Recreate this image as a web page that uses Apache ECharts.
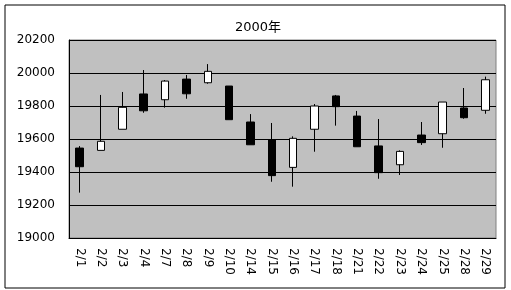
<!DOCTYPE html>
<html><head><meta charset="utf-8">
<script src="https://cdn.jsdelivr.net/npm/echarts@6/dist/echarts.min.js"></script>
<style>html,body{margin:0;padding:0;background:#fff}#c{width:511px;height:290px}</style>
</head><body><div id="c"></div>
<script>
var categories = ['2/1','2/2','2/3','2/4','2/7','2/8','2/9','2/10','2/14','2/15','2/16','2/17','2/18','2/21','2/22','2/23','2/24','2/25','2/28','2/29'];
var openV  = [19545,19531,19659,19873,19838,19963,19941,19921,19703,19594,19428,19659,19861,19739,19558,19444,19624,19632,19788,19774];
var closeV = [19432,19586,19792,19771,19951,19874,20010,19717,19565,19378,19604,19800,19796,19553,19396,19525,19578,19824,19729,19959];
var lowV   = [19275,19531,19659,19759,19790,19844,19935,19717,19565,19341,19311,19523,19681,19553,19359,19382,19564,19547,19723,19753];
var highV  = [19557,19867,19885,20018,19957,19988,20054,19921,19751,19697,19616,19812,19867,19770,19721,19531,19703,19824,19909,19978];
var yTicks = [19000,19200,19400,19600,19800,20000,20200];

var data = categories.map(function(c,i){return [openV[i],closeV[i],lowV[i],highV[i]];});
var chart = echarts.init(document.getElementById('c'));
var font = "'DejaVu Sans', 'Noto Sans CJK JP', sans-serif";
chart.setOption({
  animation:false,
  backgroundColor:'#fff',
  title:{text:'2000年',left:253,top:16,textAlign:'center',textStyle:{fontSize:13,fontWeight:'normal',color:'#000',fontFamily:font}},
  graphic:[{type:'rect',shape:{x:5,y:5,width:500,height:283},style:{fill:null,stroke:'#000',lineWidth:1},silent:true,z:-1}],
  grid:{left:69,top:40,right:15,bottom:52,show:true,backgroundColor:'#c0c0c0',borderColor:'#808080',borderWidth:1},
  xAxis:{type:'category',data:categories,boundaryGap:true,
    axisLine:{lineStyle:{color:'#000',width:1}},
    axisTick:{inside:true,length:3,alignWithLabel:false,lineStyle:{color:'#000'}},
    axisLabel:{rotate:-90,margin:10,color:'#000',fontSize:12,fontFamily:font,interval:0},
    splitLine:{show:false}},
  yAxis:{type:'value',min:yTicks[0],max:yTicks[yTicks.length-1],interval:200,
    axisLine:{show:true,lineStyle:{color:'#000',width:1}},
    axisTick:{show:true,inside:true,length:3,lineStyle:{color:'#000'}},
    axisLabel:{color:'#000',fontSize:12,fontFamily:font,margin:14,formatter:function(v){return String(v);}},
    splitLine:{show:true,lineStyle:{color:'#000',width:1}}},
  series:[{type:'candlestick',data:data,barWidth:8,
    itemStyle:{color:'#fff',color0:'#000',borderColor:'#000',borderColor0:'#000',borderWidth:1}}]
});
</script></body></html>
